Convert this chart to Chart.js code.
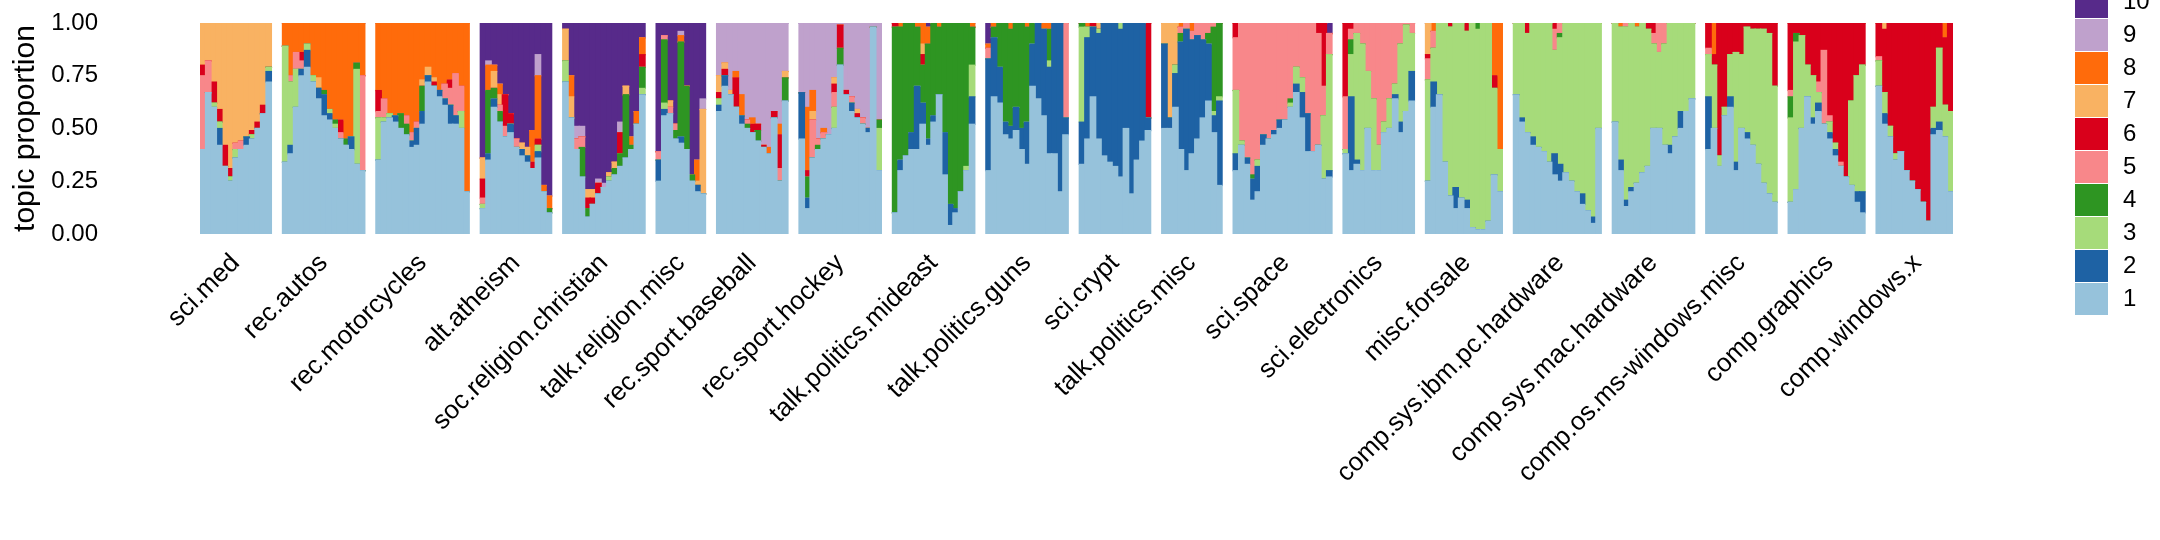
<!DOCTYPE html>
<html>
<head>
<meta charset="utf-8">
<title>Topic proportions by newsgroup</title>
<script src="https://cdn.jsdelivr.net/npm/chart.js@4.4.1/dist/chart.umd.min.js"></script>
<style>
  html, body { margin: 0; padding: 0; background: #ffffff; }
  #wrap { width: 2160px; height: 540px; position: relative; }
</style>
</head>
<body>
<div id="wrap"><canvas id="chart"></canvas></div>
<script>
// Newsgroups, left to right
const groups = [
  'sci.med', 'rec.autos', 'rec.motorcycles', 'alt.atheism', 'soc.religion.christian',
  'talk.religion.misc', 'rec.sport.baseball', 'rec.sport.hockey', 'talk.politics.mideast',
  'talk.politics.guns', 'sci.crypt', 'talk.politics.misc', 'sci.space', 'sci.electronics',
  'misc.forsale', 'comp.sys.ibm.pc.hardware', 'comp.sys.mac.hardware',
  'comp.os.ms-windows.misc', 'comp.graphics', 'comp.windows.x'
];

// Topic that takes whatever is left at the top of each group
const mainTopic = [7, 8, 8, 10, 10, 10, 9, 9, 4, 2, 2, 2, 5, 5, 3, 3, 3, 6, 6, 6];

const topicLabels = ['1', '2', '3', '4', '5', '6', '7', '8', '9', '10'];
const topicColors = [
  '#96c2db', '#1e62a4', '#a6db7a', '#2e9522', '#f8878a',
  '#d9001b', '#f9b262', '#ff6b0b', '#bfa1cc', '#572a8a'
];

const yTicks = [0, 0.25, 0.5, 0.75, 1];

// Topic shares per document column, one list per group (0 = topic not present)
const topic1 = [
  [0.4, 0.67, 0.6, 0.42, 0.32, 0.25, 0.36, 0.4, 0.42, 0.45, 0.5, 0.57, 0.72],
  [0.34, 0.38, 0.6, 0.75, 0.79, 0.72, 0.64, 0.56, 0.54, 0.5, 0.45, 0.42, 0.4, 0.33, 0.3],
  [0.35, 0.53, 0.55, 0.53, 0.5, 0.47, 0.41, 0.42, 0.52, 0.72, 0.7, 0.65, 0.61, 0.52, 0.52, 0.5, 0.2],
  [0.12, 0.35, 0.6, 0.53, 0.46, 0.48, 0.41, 0.37, 0.34, 0.31, 0.36, 0.2, 0.1],
  [0.72, 0.55, 0.4, 0.27, 0.08, 0.14, 0.19, 0.22, 0.25, 0.28, 0.32, 0.36, 0.4, 0.52, 0.66],
  [0.25, 0.56, 0.57, 0.45, 0.43, 0.4, 0.25, 0.2, 0.19],
  [0.58, 0.7, 0.66, 0.6, 0.52, 0.5, 0.48, 0.44, 0.41, 0.38, 0.55, 0.25, 0.63],
  [0.45, 0.12, 0.36, 0.4, 0.45, 0.47, 0.5, 0.8, 0.66, 0.58, 0.55, 0.52, 0.48, 0.98, 0.3],
  [0.1, 0.3, 0.37, 0.4, 0.4, 0.52, 0.42, 0.53, 0.66, 0.28, 0.04, 0.1, 0.2, 0.3, 0.52],
  [0.3, 0.65, 0.62, 0.47, 0.45, 0.49, 0.4, 0.33, 0.7, 0.64, 0.56, 0.38, 0.38, 0.2, 0.47],
  [0.33, 0.45, 0.65, 0.45, 0.37, 0.34, 0.32, 0.27, 0.5, 0.19, 0.35, 0.44, 0.49],
  [0.5, 0.5, 0.6, 0.4, 0.3, 0.38, 0.45, 0.55, 0.63, 0.48, 0.23],
  [0.3, 0.42, 0.33, 0.16, 0.2, 0.42, 0.45, 0.47, 0.5, 0.54, 0.6, 0.67, 0.55, 0.39, 0.39, 0.42, 0.26, 0.27],
  [0.38, 0.3, 0.33, 0.3, 0.5, 0.3, 0.3, 0.48, 0.5, 0.64, 0.48, 0.58, 0.63],
  [0.25, 0.6, 0.66, 0.34, 0.18, 0.12, 0.17, 0.12, 0.03, 0.02, 0.02, 0.06, 0.28, 0.2],
  [0.66, 0.53, 0.48, 0.42, 0.41, 0.39, 0.34, 0.28, 0.25, 0.29, 0.25, 0.2, 0.14, 0.11, 0.05, 0.5],
  [0.53, 0.3, 0.13, 0.2, 0.24, 0.29, 0.32, 0.5, 0.5, 0.42, 0.38, 0.46, 0.5, 0.58, 0.64],
  [0.4, 0.5, 0.32, 0.56, 0.6, 0.3, 0.5, 0.45, 0.42, 0.33, 0.24, 0.19, 0.15],
  [0.15, 0.21, 0.5, 0.65, 0.52, 0.58, 0.52, 0.45, 0.37, 0.32, 0.27, 0.23, 0.15, 0.1],
  [0.7, 0.52, 0.46, 0.35, 0.39, 0.3, 0.25, 0.21, 0.15, 0.06, 0.47, 0.49, 0.46, 0.2]
];

const topic2 = [
  [0, 0, 0, 0.08, 0, 0, 0, 0, 0.04, 0, 0, 0, 0.05],
  [0, 0.04, 0, 0.03, 0.08, 0, 0.05, 0.1, 0.03, 0, 0, 0, 0.06, 0, 0],
  [0, 0, 0, 0.03, 0, 0, 0.03, 0.08, 0.06, 0.03, 0, 0.03, 0.03, 0.09, 0.04, 0, 0],
  [0, 0.03, 0.04, 0, 0, 0.04, 0, 0.03, 0.03, 0, 0.03, 0, 0],
  0,
  [0.1, 0.03, 0, 0, 0.03, 0, 0, 0.03, 0],
  [0.03, 0.05, 0, 0, 0.04, 0, 0, 0, 0, 0, 0, 0, 0],
  [0.22, 0.05, 0, 0, 0, 0, 0, 0, 0, 0.04, 0, 0, 0.02, 0, 0],
  [0, 0.05, 0, 0.08, 0.3, 0.1, 0.03, 0.03, 0, 0.2, 0.1, 0.02, 0, 0, 0.13],
  0,
  0,
  0,
  [0.08, 0, 0.03, 0.1, 0.12, 0.05, 0, 0.02, 0.04, 0, 0, 0.04, 0.12, 0.18, 0, 0, 0, 0.03],
  [0, 0.35, 0.02, 0, 0, 0, 0, 0, 0, 0.02, 0.05, 0, 0.14],
  [0, 0.12, 0, 0, 0, 0.1, 0, 0.04, 0, 0, 0, 0, 0, 0],
  [0, 0.02, 0, 0.04, 0, 0, 0, 0.1, 0.08, 0, 0, 0, 0.05, 0, 0.03, 0],
  [0, 0.05, 0.03, 0.02, 0, 0, 0, 0, 0, 0, 0.04, 0, 0.08, 0, 0],
  [0.25, 0, 0, 0, 0.05, 0.04, 0, 0.03, 0, 0, 0, 0, 0],
  [0, 0, 0, 0, 0.03, 0.04, 0, 0.03, 0.03, 0, 0, 0, 0.05, 0.1],
  [0, 0.05, 0, 0, 0, 0, 0, 0, 0, 0, 0.03, 0.04, 0, 0]
];

const topic3 = [
  [0, 0, 0.02, 0.03, 0, 0.02, 0.04, 0, 0, 0.02, 0, 0, 0.02],
  [0.55, 0.3, 0.18, 0, 0.03, 0.03, 0, 0, 0.02, 0.02, 0, 0, 0, 0.45, 0],
  [0.2, 0.02, 0.02, 0, 0, 0, 0, 0, 0, 0, 0, 0, 0, 0, 0, 0.08, 0],
  [0.02, 0, 0, 0, 0, 0, 0, 0, 0, 0, 0.03, 0, 0],
  [0.1, 0, 0, 0, 0, 0, 0, 0, 0.02, 0, 0, 0, 0, 0, 0.03],
  [0, 0.03, 0, 0, 0, 0, 0, 0, 0],
  [0.03, 0, 0, 0, 0, 0, 0, 0, 0, 0, 0, 0, 0],
  [0, 0, 0, 0, 0, 0, 0.1, 0, 0, 0, 0, 0, 0, 0, 0.2],
  [0, 0, 0, 0, 0, 0, 0, 0, 0, 0, 0, 0, 0, 0.02, 0.15],
  [0, 0, 0, 0, 0, 0, 0, 0, 0, 0, 0, 0.03, 0, 0, 0],
  [0.45, 0.05, 0, 0.02, 0, 0, 0, 0.03, 0, 0, 0, 0, 0],
  [0, 0, 0.04, 0, 0, 0, 0, 0, 0, 0.02, 0.02],
  [0.3, 0.02, 0, 0, 0.03, 0, 0, 0, 0, 0, 0.02, 0.08, 0.07, 0, 0, 0, 0.3, 0.55],
  [0.02, 0.2, 0.6, 0.6, 0.27, 0.34, 0.12, 0.05, 0.14, 0.05, 0.37, 0.41, 0.18],
  0,
  0,
  0,
  [0.2, 0.3, 0.05, 0.04, 0.2, 0.52, 0.35, 0.5, 0.55, 0.64, 0.73, 0.76, 0.55],
  [0.4, 0.7, 0.44, 0.15, 0.2, 0.05, 0, 0.05, 0.03, 0, 0, 0.4, 0.55, 0.6],
  [0.12, 0.1, 0.05, 0.03, 0, 0, 0, 0, 0, 0, 0.1, 0.35, 0.15, 0.38]
];

const topic4 = [
  0,
  [0, 0, 0, 0, 0, 0, 0, 0.02, 0, 0.02, 0, 0.03, 0, 0.03, 0],
  [0, 0, 0, 0, 0.07, 0.05, 0, 0, 0.12, 0, 0, 0, 0, 0, 0, 0, 0],
  [0, 0.3, 0.05, 0.05, 0, 0, 0, 0, 0, 0, 0, 0, 0.02],
  [0, 0, 0, 0.14, 0.04, 0, 0, 0, 0, 0.03, 0.06, 0.3, 0.02, 0, 0.1],
  [0, 0.3, 0, 0.04, 0.45, 0.3, 0.03, 0, 0],
  [0, 0, 0, 0, 0, 0.02, 0, 0.05, 0, 0, 0, 0, 0.11],
  [0, 0.1, 0, 0.02, 0, 0, 0, 0.08, 0, 0, 0, 0, 0, 0, 0.04],
  0,
  [0, 0.05, 0.21, 0.47, 0.46, 0.4, 0.5, 0.45, 0.1, 0, 0, 0.15, 0, 0, 0],
  [0.02, 0, 0, 0, 0, 0, 0, 0, 0, 0, 0, 0, 0],
  [0, 0, 0, 0.04, 0, 0, 0, 0, 0.05, 0.4, 0.35],
  [0, 0, 0, 0.02, 0, 0, 0, 0, 0, 0, 0.02, 0, 0, 0, 0, 0, 0, 0],
  [0, 0.07, 0, 0, 0, 0, 0, 0, 0, 0, 0, 0, 0],
  [0, 0, 0, 0, 0, 0, 0, 0, 0, 0.03, 0, 0, 0, 0],
  [0, 0, 0, 0, 0, 0, 0, 0, 0.02, 0, 0, 0, 0, 0, 0, 0],
  0,
  0,
  [0.1, 0.04, 0, 0, 0, 0, 0, 0, 0, 0, 0, 0, 0, 0],
  0
];

const topic5 = [
  [0.35, 0.15, 0, 0, 0, 0, 0.03, 0.04, 0, 0, 0, 0, 0],
  [0, 0.03, 0.08, 0.04, 0, 0, 0, 0, 0, 0, 0.03, 0, 0, 0, 0.45],
  [0.03, 0.09, 0, 0, 0, 0.04, 0.04, 0.03, 0, 0, 0, 0, 0.07, 0.08, 0.2, 0.12, 0],
  [0.03, 0, 0, 0.03, 0.05, 0, 0.04, 0, 0, 0, 0, 0, 0],
  [0, 0, 0.05, 0.05, 0, 0, 0, 0, 0, 0, 0, 0, 0, 0, 0],
  [0.04, 0.02, 0.03, 0.03, 0, 0, 0, 0, 0],
  [0, 0, 0, 0, 0, 0.02, 0, 0, 0, 0, 0, 0.06, 0],
  [0, 0, 0.18, 0.03, 0.03, 0, 0.07, 0, 0, 0.03, 0, 0.03, 0, 0, 0],
  0,
  [0.05, 0, 0, 0, 0, 0, 0, 0, 0, 0, 0, 0, 0, 0, 0.45],
  0,
  [0, 0, 0, 0.03, 0.03, 0.04, 0.06, 0.08, 0.05, 0.02, 0],
  0,
  0,
  [0.1, 0.08, 0, 0, 0, 0, 0, 0, 0, 0, 0, 0, 0, 0],
  [0, 0, 0, 0, 0, 0, 0, 0.1, 0.05, 0, 0, 0, 0, 0, 0, 0],
  [0, 0, 0.02, 0, 0, 0, 0, 0.05, 0.14, 0.1, 0, 0, 0, 0, 0],
  [0.03, 0, 0, 0, 0, 0, 0, 0, 0, 0, 0, 0, 0],
  [0.03, 0, 0, 0, 0, 0.05, 0.35, 0.03, 0, 0.02, 0, 0, 0, 0],
  [0.02, 0, 0, 0, 0, 0, 0, 0, 0, 0, 0, 0, 0, 0]
];

const topic6 = [
  [0.05, 0, 0.1, 0.06, 0.1, 0.04, 0, 0, 0, 0.02, 0.03, 0.04, 0],
  [0, 0, 0, 0.04, 0, 0, 0, 0, 0, 0, 0.06, 0, 0, 0, 0],
  [0.1, 0, 0, 0, 0, 0, 0, 0, 0, 0, 0.02, 0, 0, 0.04, 0, 0, 0],
  [0.09, 0, 0, 0, 0.15, 0.05, 0, 0, 0, 0.03, 0.03, 0, 0],
  [0, 0, 0, 0, 0.05, 0.03, 0.05, 0, 0, 0, 0.1, 0, 0, 0, 0.06],
  0,
  [0.03, 0.03, 0, 0.14, 0, 0, 0.04, 0.03, 0.01, 0, 0.03, 0.16, 0],
  [0, 0.03, 0, 0, 0, 0, 0.04, 0.11, 0.02, 0, 0.02, 0, 0, 0, 0],
  [0.02, 0, 0, 0, 0, 0.05, 0, 0, 0, 0, 0, 0, 0, 0, 0],
  0,
  [0, 0, 0.02, 0, 0, 0, 0, 0, 0, 0, 0, 0, 0.45],
  0,
  [0.07, 0, 0, 0, 0, 0, 0, 0, 0, 0, 0, 0, 0, 0, 0, 0.05, 0.3, 0],
  [0.35, 0.03, 0, 0, 0, 0, 0, 0, 0, 0, 0, 0, 0],
  [0.02, 0, 0, 0, 0.02, 0, 0, 0.04, 0, 0, 0, 0, 0.06, 0],
  [0, 0, 0.05, 0, 0, 0, 0, 0.03, 0, 0, 0, 0, 0, 0, 0, 0],
  [0, 0, 0, 0, 0, 0, 0.03, 0.05, 0, 0, 0, 0, 0, 0, 0],
  0,
  0,
  0
];

const topic7 = [
  0,
  [0, 0, 0, 0, 0, 0, 0.05, 0, 0, 0, 0, 0, 0, 0, 0],
  [0, 0, 0, 0, 0, 0, 0, 0, 0.03, 0.04, 0.02, 0, 0, 0, 0, 0, 0],
  [0.1, 0, 0.08, 0.05, 0, 0, 0, 0.03, 0.04, 0, 0, 0, 0],
  [0.15, 0.1, 0, 0, 0.04, 0.04, 0, 0, 0.02, 0.03, 0, 0.04, 0, 0, 0],
  [0, 0, 0.03, 0, 0, 0, 0, 0.02, 0.4],
  [0.08, 0.03, 0.02, 0, 0, 0, 0, 0, 0, 0, 0, 0, 0.03],
  [0, 0, 0.04, 0, 0, 0, 0.03, 0, 0, 0, 0.02, 0, 0, 0, 0],
  [0, 0, 0, 0, 0, 0.05, 0, 0, 0, 0, 0, 0, 0, 0, 0],
  0,
  [0, 0, 0, 0.03, 0, 0, 0, 0, 0, 0, 0, 0, 0],
  [0.1, 0.45, 0.2, 0, 0, 0, 0, 0, 0, 0, 0],
  0,
  0,
  [0.15, 0, 0, 0, 0, 0, 0, 0, 0, 0, 0, 0, 0, 0],
  0,
  0,
  0,
  0,
  [0, 0.03, 0, 0, 0, 0, 0, 0, 0, 0, 0, 0, 0, 0]
];

const topic8 = [
  0,
  0,
  0,
  [0, 0.12, 0.03, 0.05, 0, 0, 0, 0, 0, 0.15, 0.3, 0.03, 0.06],
  [0, 0.1, 0, 0, 0, 0, 0, 0, 0, 0, 0, 0, 0.04, 0.06, 0.08],
  [0, 0, 0, 0, 0.03, 0, 0, 0.1, 0],
  [0, 0, 0, 0.03, 0.1, 0, 0.03, 0, 0, 0.03, 0, 0.05, 0],
  [0, 0.3, 0.1, 0, 0.02, 0, 0, 0, 0, 0, 0, 0, 0, 0, 0],
  [0, 0.02, 0, 0, 0.02, 0.1, 0.08, 0, 0.02, 0, 0, 0, 0, 0, 0.02],
  [0.02, 0.02, 0, 0, 0.03, 0, 0, 0.02, 0, 0, 0.03, 0.03, 0, 0, 0],
  [0, 0.02, 0, 0, 0, 0, 0, 0, 0, 0, 0, 0, 0],
  [0, 0, 0, 0.02, 0, 0.04, 0, 0, 0, 0, 0],
  0,
  0,
  [0, 0.04, 0, 0, 0, 0, 0, 0, 0, 0, 0, 0, 0.25, 0.6],
  0,
  [0, 0.02, 0, 0, 0.02, 0, 0, 0, 0, 0, 0, 0, 0, 0, 0],
  [0, 0.15, 0, 0, 0, 0, 0, 0, 0, 0, 0, 0, 0],
  0,
  [0, 0, 0, 0, 0, 0, 0, 0, 0, 0, 0, 0, 0.07, 0]
];

const topic9 = [
  0, 0, 0,
  [0, 0.02, 0, 0, 0, 0, 0, 0, 0, 0, 0.1, 0, 0],
  [0, 0, 0.06, 0.05, 0, 0, 0.02, 0.02, 0, 0, 0.05, 0, 0, 0, 0],
  [0, 0, 0, 0, 0.02, 0, 0, 0, 0.05],
  0, 0, 0, 0, 0, 0, 0, 0, 0, 0, 0, 0, 0, 0
];

const topic10 = [
  0, 0, 0, 0, 0, 0, 0, 0,
  [0, 0, 0, 0, 0, 0, 0.02, 0, 0, 0, 0, 0, 0, 0, 0],
  [0.1, 0, 0, 0, 0, 0, 0, 0, 0, 0, 0, 0, 0, 0, 0],
  0, 0,
  [0, 0, 0, 0, 0, 0, 0, 0, 0, 0, 0, 0, 0, 0, 0, 0, 0, 0.05],
  0, 0, 0, 0, 0, 0, 0
];

const topicShares = [topic1, topic2, topic3, topic4, topic5, topic6, topic7, topic8, topic9, topic10];

// Empty columns between two groups
const GAP_COLUMNS = 2;
const FONT = '"Liberation Sans", Arial, Helvetica, sans-serif';


// Build category labels and stacked series
function buildSeries() {
  const labels = [];
  const series = topicLabels.map(() => []);

  groups.forEach((name, g) => {
    const n = topic1[g].length;
    for (let j = 0; j < n; j++) {
      labels.push(j === Math.floor(n / 2) ? name : '');
      let used = 0;
      for (let t = 0; t < topicShares.length; t++) {
        if (t + 1 === mainTopic[g]) continue;
        const arr = topicShares[t][g];
        const v = arr ? arr[j] : 0;
        series[t].push(v);
        used += v;
      }
      // the group's main topic takes the rest of the column
      series[mainTopic[g] - 1].push(Math.max(0, 1 - used));
    }
    if (g < groups.length - 1) {
      for (let k = 0; k < GAP_COLUMNS; k++) {
        labels.push('');
        series.forEach(s => s.push(null));
      }
    }
  });

  return { labels, series };
}


// Legend drawn as a column of colour blocks, topic 10 at top
const blockLegend = {
  id: 'blockLegend',
  afterDraw(chart, args, opts) {
    const ctx = chart.ctx;
    const sets = chart.data.datasets;
    ctx.save();
    ctx.font = `24px ${FONT}`;
    ctx.textBaseline = 'middle';
    ctx.textAlign = 'left';
    sets.forEach((ds, i) => {
      const top = opts.bottom - (i + 1) * opts.size;
      ctx.fillStyle = ds.backgroundColor;
      ctx.fillRect(opts.x, top + 1, opts.size, opts.size - 1);
      ctx.fillStyle = '#000000';
      ctx.fillText(ds.label, opts.x + opts.size + 15, top + opts.size / 2 + 1);
    });
    ctx.restore();
  }
};


function init() {
  const { labels, series } = buildSeries();

  const datasets = series.map((data, t) => ({
    label: topicLabels[t],
    data: data,
    backgroundColor: topicColors[t],
    borderWidth: 0,
    inflateAmount: 0.6,
    barPercentage: 1,
    categoryPercentage: 1
  }));

  new Chart(document.getElementById('chart'), {
    type: 'bar',
    data: { labels, datasets },
    options: {
      responsive: true,
      maintainAspectRatio: false,
      animation: false,
      devicePixelRatio: 1,
      layout: { padding: { left: 8, right: 207, top: 23, bottom: 0 } },
      plugins: {
        legend: { display: false },
        tooltip: { enabled: false },
        blockLegend: { x: 2075, bottom: 315, size: 33 }
      },
      scales: {
        x: {
          stacked: true,
          grid: { display: false, drawTicks: false },
          border: { display: false },
          ticks: {
            autoSkip: false,
            minRotation: 45,
            maxRotation: 45,
            padding: 14,
            color: '#000000',
            font: { family: FONT, size: 26 }
          },
          afterFit(scale) {
            scale.height = 306;
            scale.paddingLeft = 0;
            scale.paddingRight = 0;
          }
        },
        y: {
          stacked: true,
          min: 0,
          max: 1,
          grid: { display: false, drawTicks: false },
          border: { display: false },
          afterBuildTicks(scale) { scale.ticks = yTicks.map(v => ({ value: v })); },
          ticks: {
            padding: 102,
            color: '#000000',
            font: { family: FONT, size: 24 },
            callback: v => Number(v).toFixed(2)
          },
          title: {
            display: true,
            text: 'topic proportion',
            color: '#000000',
            padding: { top: 0, bottom: 0 },
            font: { family: FONT, size: 30 }
          },
          afterFit(scale) {
            scale.width = 192;
            // the wide tick padding must not push the plot down
            scale.paddingTop = 0;
            scale.paddingBottom = 0;
          }
        }
      }
    },
    plugins: [blockLegend]
  });
}

document.addEventListener('DOMContentLoaded', init);
</script>
</body>
</html>
